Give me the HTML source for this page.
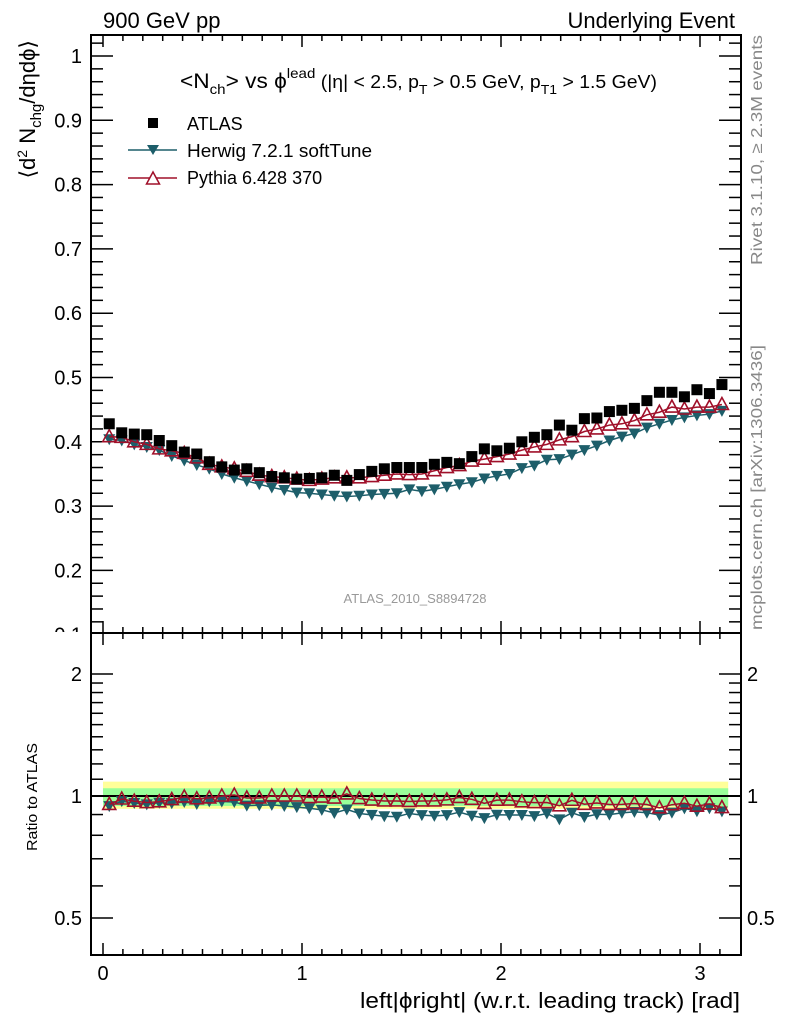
<!DOCTYPE html>
<html><head><meta charset="utf-8"><style>
body{margin:0;background:#fff}
svg{display:block;font-family:"Liberation Sans",sans-serif}
</style></head><body>
<svg id="c" width="786" height="1024" viewBox="0 0 786 1024" xmlns="http://www.w3.org/2000/svg">
<defs><clipPath id="topclip"><rect x="0" y="0" width="786" height="632"/></clipPath></defs>
<text x="103" y="28" font-size="22">900 GeV pp</text>
<text x="735" y="28" font-size="22" text-anchor="end">Underlying Event</text>
<text x="180" y="88" font-size="21" textLength="477" lengthAdjust="spacingAndGlyphs">&lt;N<tspan font-size="14" dy="6">ch</tspan><tspan dy="-6">&gt; vs ϕ</tspan><tspan font-size="14" dy="-10">lead</tspan><tspan dy="10" font-size="18"> (|η| &lt; 2.5, p</tspan><tspan font-size="13" dy="6">T</tspan><tspan font-size="18" dy="-6"> &gt; 0.5 GeV, p</tspan><tspan font-size="13" dy="6">T1</tspan><tspan font-size="18" dy="-6"> &gt; 1.5 GeV)</tspan></text>
<g id="legend">
<rect x="148" y="118" width="10" height="10" fill="#000"/>
<text x="187" y="130" font-size="18">ATLAS</text>
<line x1="128" y1="150" x2="177" y2="150" stroke="#1d5e6a" stroke-width="1.5"/>
<path d="M147,145 L159,145 L153,155 Z" fill="#1d5e6a"/>
<text x="187" y="157" font-size="18" textLength="185" lengthAdjust="spacingAndGlyphs">Herwig 7.2.1 softTune</text>
<line x1="128" y1="178" x2="177" y2="178" stroke="#a0102a" stroke-width="1.5"/>
<path d="M146.5,184 L159.5,184 L153,172 Z" fill="#fff" stroke="#a0102a" stroke-width="1.5"/>
<text x="187" y="184" font-size="18">Pythia 6.428 370</text>
</g>
<text x="415" y="603" font-size="13" fill="#999" text-anchor="middle">ATLAS_2010_S8894728</text>
<text transform="translate(762,265) rotate(-90)" font-size="16" fill="#888" textLength="230" lengthAdjust="spacingAndGlyphs">Rivet 3.1.10, ≥ 2.3M events</text>
<text transform="translate(762,630) rotate(-90)" font-size="16" fill="#888" textLength="285" lengthAdjust="spacingAndGlyphs">mcplots.cern.ch [arXiv:1306.3436]</text>
<text transform="translate(35,40) rotate(-90)" font-size="22" text-anchor="end">⟨d<tspan font-size="14" dy="-8">2</tspan><tspan dy="8"> N</tspan><tspan font-size="15" dy="6">chg</tspan><tspan dy="-6">/dηdϕ⟩</tspan></text>
<text transform="translate(37,797) rotate(-90)" font-size="15" text-anchor="middle" textLength="108" lengthAdjust="spacingAndGlyphs">Ratio to ATLAS</text>
<text x="740" y="1008" font-size="22" text-anchor="end" textLength="380" lengthAdjust="spacingAndGlyphs">left|ϕright| (w.r.t. leading track) [rad]</text>
<g id="g"></g>
</svg>
<script>
const xCenters=[];for(let i=0;i<50;i++)xCenters.push((i+0.5)*Math.PI/50);
const atlas=[0.428,0.414,0.412,0.411,0.402,0.394,0.384,0.381,0.369,0.361,0.356,0.358,0.352,0.346,0.344,0.342,0.343,0.344,0.348,0.340,0.349,0.354,0.358,0.360,0.360,0.360,0.365,0.368,0.366,0.377,0.389,0.386,0.390,0.400,0.407,0.411,0.426,0.418,0.436,0.437,0.447,0.449,0.452,0.464,0.477,0.477,0.470,0.481,0.475,0.489];
const herwig=[0.404,0.402,0.396,0.392,0.387,0.378,0.371,0.364,0.358,0.350,0.344,0.339,0.334,0.329,0.325,0.321,0.320,0.318,0.316,0.315,0.316,0.318,0.319,0.320,0.326,0.323,0.326,0.330,0.334,0.337,0.343,0.347,0.350,0.359,0.363,0.372,0.373,0.380,0.387,0.394,0.402,0.408,0.413,0.422,0.428,0.434,0.438,0.441,0.443,0.448];
const pythia=[0.408,0.407,0.400,0.396,0.389,0.386,0.382,0.375,0.365,0.361,0.358,0.354,0.348,0.346,0.344,0.342,0.340,0.342,0.344,0.344,0.344,0.346,0.348,0.350,0.349,0.350,0.355,0.360,0.363,0.370,0.373,0.377,0.381,0.387,0.392,0.396,0.403,0.408,0.416,0.420,0.426,0.428,0.433,0.442,0.446,0.454,0.451,0.454,0.454,0.458];
const totErrUp=0.085, totErrDn=0.07, statErrUp=0.045, statErrDn=0.055;
const mainTicks=[0.1,0.2,0.3,0.4,0.5,0.6,0.7,0.8,0.9,1];
const ratioTicks=[0.5,1,2];
const xTickLabels=[0,1,2,3];

const L=91,R=741,T=35,MB=633,B=955;
const X=v=>103+199*v;
const Y=v=>56+(1-v)*643;
const YR=r=>796-122*Math.log2(r);
const g=document.getElementById('g');
const NS='http://www.w3.org/2000/svg';
function mk(t,a,p){const e=document.createElementNS(NS,t);for(const k in a)e.setAttribute(k,a[k]);(p||g).appendChild(e);return e;}

const bandY=mk('rect',{x:X(0),y:YR(1+totErrUp),width:X(Math.PI)-X(0),height:YR(1-totErrDn)-YR(1+totErrUp),fill:'#ffff99'});


const bandG=mk('rect',{x:X(0),y:YR(1+statErrUp),width:X(Math.PI)-X(0),height:YR(1-statErrDn)-YR(1+statErrUp),fill:'#99ff99'});


const ref=mk('line',{x1:L,x2:R,y1:YR(1),y2:YR(1),stroke:'#000','stroke-width':2});



const f1=mk('rect',{x:L,y:T,width:R-L,height:MB-T,fill:'none',stroke:'#000','stroke-width':2});


const f2=mk('rect',{x:L,y:MB,width:R-L,height:B-MB,fill:'none',stroke:'#000','stroke-width':2});



function tick(x1,y1,x2,y2){mk('line',{x1,y1,x2,y2,stroke:'#000','stroke-width':1.5});}
for(let k=0;k<=31;k++){const v=k/10,x=X(v),len=(k%10==0)?12:6;
 tick(x,T,x,T+len);tick(x,MB,x,MB-len);tick(x,MB,x,MB+len);tick(x,B,x,B-len);}
xTickLabels.forEach(v=>{const t=mk('text',{x:X(v),y:980,'font-size':20,'text-anchor':'middle'});t.textContent=v;

});
for(let k=5;k<=51;k++){const v=k/50,y=Y(v);if(y<T||y>MB)continue;const len=(k%5==0)?22:12;tick(L,y,L+len,y);tick(R,y,R-len,y);}
mainTicks.forEach(v=>{const t=mk('text',{x:82,y:Y(v)+7,'font-size':20,'text-anchor':'end','clip-path':'url(#topclip)'});t.textContent=v;

});
[0.5,0.6,0.7,0.8,0.9,1,1.1,1.2,1.3,1.4,1.5,1.6,1.7,1.8,1.9,2].forEach(v=>{const y=YR(v);const len=ratioTicks.includes(v)?22:12;tick(L,y,L+len,y);tick(R,y,R-len,y);});
ratioTicks.forEach(v=>{let t=mk('text',{x:82,y:YR(v)+7,'font-size':20,'text-anchor':'end'});t.textContent=v;


t=mk('text',{x:747,y:YR(v)+7,'font-size':20});t.textContent=v;

});

function series(vals,ymap,color,kind,name){
 const pts=vals.map((v,i)=>[X(xCenters[i]),ymap(v,i)]);
 if(kind!=='sq'){const p=mk('polyline',{points:pts.map(p=>p.join(',')).join(' '),fill:'none',stroke:color,'stroke-width':1.5});
 
 }
 pts.forEach(([x,y])=>{let e;
  if(kind==='sq')e=mk('rect',{x:x-5.5,y:y-5.5,width:11,height:11,fill:'#000'});
  else if(kind==='down')e=mk('path',{d:`M${x-6},${y-5}L${x+6},${y-5}L${x},${y+6}Z`,fill:color});
  else e=mk('path',{d:`M${x-6.5},${y+5}L${x+6.5},${y+5}L${x},${y-7}Z`,fill:'none',stroke:color,'stroke-width':1.6});
  
  });
}
series(herwig,v=>Y(v),'#1d5e6a','down','herwig');
series(pythia,v=>Y(v),'#a0102a','up','pythia');
series(atlas,v=>Y(v),'#000','sq','atlas');
series(herwig,(v,i)=>YR(v/atlas[i]),'#1d5e6a','down','herwig-ratio');
series(pythia,(v,i)=>YR(v/atlas[i]),'#a0102a','up','pythia-ratio');
</script>
</body></html>
